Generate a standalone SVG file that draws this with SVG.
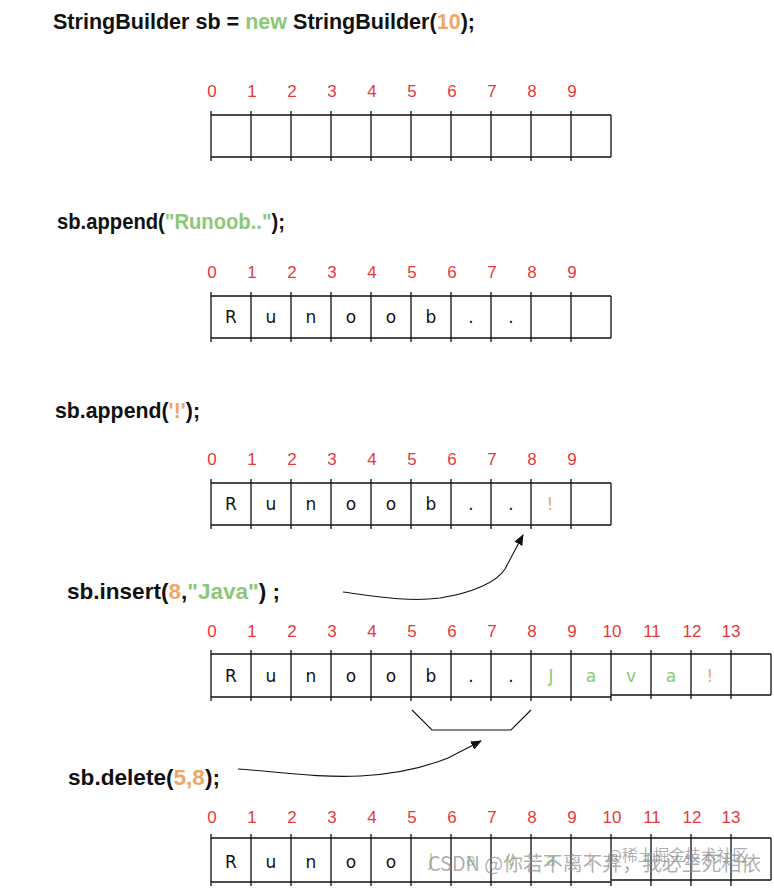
<svg xmlns="http://www.w3.org/2000/svg" width="774" height="889" viewBox="0 0 774 889">
<style>
.code{font-family:"Liberation Sans",Arial,sans-serif;font-weight:bold;font-size:22px;fill:#111}
.g{fill:#8cc878}
.o{fill:#f0a666}
.idx{font-family:"Liberation Sans",Arial,sans-serif;font-size:17px;fill:#e8373d;text-anchor:middle}
.ch{font-family:"DejaVu Sans",Verdana,sans-serif;font-size:17px;fill:#111;text-anchor:middle}
.grid{fill:none;stroke:#111;stroke-width:1.3}
.conn{fill:none;stroke:#111;stroke-width:1.1}
.wm{font-family:"Noto Sans CJK SC","Noto Sans",sans-serif;fill:#8a8a8a;fill-opacity:0.7}
</style>
<defs>
<marker id="ah" markerUnits="userSpaceOnUse" markerWidth="11" markerHeight="9" refX="10" refY="4.5" orient="auto">
<path d="M0,0 L11,4.5 L0,9 z" fill="#111"/>
</marker>
</defs>
<rect width="774" height="889" fill="#ffffff"/>

<g id="code1"><text class="code" x="53" y="29" textLength="422" lengthAdjust="spacingAndGlyphs">StringBuilder sb = <tspan class="g">new</tspan> StringBuilder(<tspan class="o">10</tspan>);</text></g>

<g id="array1">
<path class="grid" d="M211 111V161M251 111V161M291 111V161M331 111V161M371 111V161M411 111V161M451 111V161M491 111V161M531 111V161M571 111V161M611 115V157M211 115H611M211 157H611"/>
<text class="idx" y="97"><tspan x="212">0</tspan><tspan x="252">1</tspan><tspan x="292">2</tspan><tspan x="332">3</tspan><tspan x="372">4</tspan><tspan x="412">5</tspan><tspan x="452">6</tspan><tspan x="492">7</tspan><tspan x="532">8</tspan><tspan x="572">9</tspan></text>
</g>

<g id="code2"><text class="code" x="57" y="229" textLength="228" lengthAdjust="spacingAndGlyphs">sb.append(<tspan class="g">"Runoob.."</tspan>);</text></g>

<g id="array2">
<path class="grid" d="M211 292V342M251 292V342M291 292V342M331 292V342M371 292V342M411 292V342M451 292V342M491 292V342M531 292V342M571 292V342M611 296V338M211 296H611M211 338H611"/>
<text class="idx" y="278"><tspan x="212">0</tspan><tspan x="252">1</tspan><tspan x="292">2</tspan><tspan x="332">3</tspan><tspan x="372">4</tspan><tspan x="412">5</tspan><tspan x="452">6</tspan><tspan x="492">7</tspan><tspan x="532">8</tspan><tspan x="572">9</tspan></text>
<text class="ch" y="323"><tspan x="231">R</tspan><tspan x="271">u</tspan><tspan x="311">n</tspan><tspan x="351">o</tspan><tspan x="391">o</tspan><tspan x="431">b</tspan><tspan x="471">.</tspan><tspan x="511">.</tspan></text>
</g>

<g id="code3"><text class="code" x="55" y="418" textLength="145" lengthAdjust="spacingAndGlyphs">sb.append(<tspan class="o">'!'</tspan>);</text></g>

<g id="array3">
<path class="grid" d="M211 479V529M251 479V529M291 479V529M331 479V529M371 479V529M411 479V529M451 479V529M491 479V529M531 479V529M571 479V529M611 483V525M211 483H611M211 525H611"/>
<text class="idx" y="465"><tspan x="212">0</tspan><tspan x="252">1</tspan><tspan x="292">2</tspan><tspan x="332">3</tspan><tspan x="372">4</tspan><tspan x="412">5</tspan><tspan x="452">6</tspan><tspan x="492">7</tspan><tspan x="532">8</tspan><tspan x="572">9</tspan></text>
<text class="ch" y="510"><tspan x="231">R</tspan><tspan x="271">u</tspan><tspan x="311">n</tspan><tspan x="351">o</tspan><tspan x="391">o</tspan><tspan x="431">b</tspan><tspan x="471">.</tspan><tspan x="511">.</tspan><tspan x="550" class="o">!</tspan></text>
</g>

<g id="code4"><text class="code" x="67" y="599" textLength="213" lengthAdjust="spacingAndGlyphs">sb.insert(<tspan class="o">8</tspan>,<tspan class="g">"Java"</tspan>) ;</text></g>

<g id="array4">
<path class="grid" d="M211 650V701M251 650V701M291 650V701M331 650V701M371 650V701M411 650V701M451 650V701M491 650V701M531 650V701M571 650V701M611 650V701M651 650V699M691 650V699M731 650V699M771 654V695M211 654H771M211 697H611M611 695H771"/>
<text class="idx" y="637"><tspan x="212">0</tspan><tspan x="252">1</tspan><tspan x="292">2</tspan><tspan x="332">3</tspan><tspan x="372">4</tspan><tspan x="412">5</tspan><tspan x="452">6</tspan><tspan x="492">7</tspan><tspan x="532">8</tspan><tspan x="572">9</tspan><tspan x="612">10</tspan><tspan x="652">11</tspan><tspan x="692">12</tspan><tspan x="731">13</tspan></text>
<text class="ch" y="682"><tspan x="231">R</tspan><tspan x="271">u</tspan><tspan x="311">n</tspan><tspan x="351">o</tspan><tspan x="391">o</tspan><tspan x="431">b</tspan><tspan x="471">.</tspan><tspan x="511">.</tspan><tspan x="551" class="g">J</tspan><tspan x="591" class="g">a</tspan><tspan x="631" class="g">v</tspan><tspan x="671" class="g">a</tspan><tspan x="710" class="o">!</tspan></text>
</g>

<g id="code5"><text class="code" x="68" y="785" textLength="152" lengthAdjust="spacingAndGlyphs">sb.delete(<tspan class="o">5,8</tspan>);</text></g>

<g id="array5">
<path class="grid" d="M211 834V886M251 834V886M291 834V886M331 834V886M371 834V886M411 834V886M451 834V886M491 834V886M531 834V886M571 834V886M611 834V886M651 834V886M691 834V886M731 834V886M771 838V880M211 838H771M211 882H611M611 880H771"/>
<text class="idx" y="823"><tspan x="212">0</tspan><tspan x="252">1</tspan><tspan x="292">2</tspan><tspan x="332">3</tspan><tspan x="372">4</tspan><tspan x="412">5</tspan><tspan x="452">6</tspan><tspan x="492">7</tspan><tspan x="532">8</tspan><tspan x="572">9</tspan><tspan x="612">10</tspan><tspan x="652">11</tspan><tspan x="692">12</tspan><tspan x="731">13</tspan></text>
<text class="ch" y="868"><tspan x="231">R</tspan><tspan x="271">u</tspan><tspan x="311">n</tspan><tspan x="351">o</tspan><tspan x="391">o</tspan></text>
<text class="ch" y="866" fill-opacity="0.7"><tspan x="431" class="g">J</tspan><tspan x="471" class="g">a</tspan><tspan x="511" class="g">v</tspan><tspan x="551" class="g">a</tspan><tspan x="590" class="o">!</tspan></text>
</g>

<g id="connectors">
<path class="conn" d="M343,592 C380,597 410,602 440,598 C472,593 497,582 505,569 L523,535" marker-end="url(#ah)"/>
<polyline class="conn" points="412,710 432,730 511,730 531,710"/>
<path class="conn" d="M238,769 C280,772 320,778 360,776 C400,774 428,766 448,758 L481,741" marker-end="url(#ah)"/>
</g>

<g id="watermark">
<text class="wm" x="607" y="861" font-size="15.5" textLength="141" lengthAdjust="spacingAndGlyphs">@稀土掘金技术社区</text>
<text class="wm" x="428" y="871" font-size="20" textLength="333" lengthAdjust="spacingAndGlyphs">CSDN @你若不离不弃，我必生死相依</text>
</g>
</svg>
